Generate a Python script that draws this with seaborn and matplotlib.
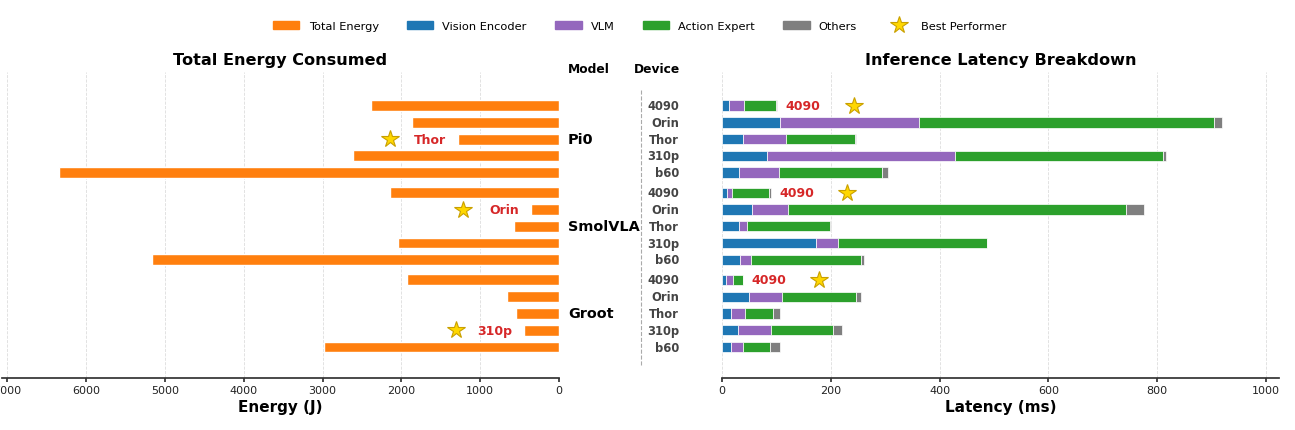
import numpy as np
import pandas as pd
from matplotlib import pyplot as plt
from matplotlib.patches import Patch
from matplotlib.lines import Line2D
import seaborn as sns

models = ["Pi0", "SmolVLA", "Groot"]
devices = ["4090", "Orin", "Thor", "310p", "b60"]

# energy per device, one list per model (J)
energy_pi0 = [2390, 1860, 1280, 2610, 6350]
energy_smolvla = [2150, 355, 570, 2045, 5165]
energy_groot = [1935, 665, 550, 440, 2980]

# latency breakdown (ms), rows = models x devices
vision_enc = [13, 107, 38, 82, 31,
              10, 55, 31, 173, 33,
              8, 49, 16, 29, 16]
vlm = [27, 256, 80, 346, 74,
       8, 67, 15, 40, 20,
       13, 61, 26, 62, 22]
action_exp = [59, 541, 127, 382, 189,
              68, 621, 153, 274, 203,
              17, 137, 51, 114, 51]
others = [3, 16, 1, 6, 12,
          4, 33, 1, 1, 6,
          1, 9, 14, 16, 17]

best_energy = ["Thor", "Orin", "310p"]
best_latency = ["4090", "4090", "4090"]

sns.set_theme(style="white")
plt.rcParams['font.family'] = ['DejaVu Sans']
plt.rcParams['text.color'] = 'black'
plt.rcParams['axes.labelcolor'] = 'black'
plt.rcParams['xtick.color'] = '#222222'

energy = energy_pi0 + energy_smolvla + energy_groot
df = pd.DataFrame({
    "model": np.repeat(models, len(devices)),
    "device": devices * len(models),
    "energy": energy,
    "vision": vision_enc, "vlm": vlm, "action": action_exp, "others": others,
})
# group spacing: 5 rows + a small gap
df["ypos"] = [g * 5.2 + i for g in range(len(models)) for i in range(len(devices))]
df["total"] = df[["vision", "vlm", "action", "others"]].sum(axis=1)

c_energy = "#ff7f0e"
c_vis, c_vlm, c_act, c_oth = "#1f77b4", "#9467bd", "#2ca02c", "#7f7f7f"
red = "#d62728"
star_kw = dict(marker="*", markersize=13, color="#FFD700", markeredgecolor="#C9A000",
               markeredgewidth=0.8, linestyle="none")

fig = plt.figure(figsize=(12.95, 4.31), dpi=100)
ax1 = fig.add_axes([0.0015, 0.1206, 0.4302, 0.71])
axm = fig.add_axes([0.4317, 0.1206, 0.1258, 0.71])
ax2 = fig.add_axes([0.5575, 0.1206, 0.4301, 0.71])

ylim = (16.25, -2.0)

# left: total energy
sns.barplot(data=df, x="energy", y="ypos", orient="y", native_scale=True,
            color=c_energy, saturation=1, width=0.65, errorbar=None, ax=ax1)
ax1.set_xlim(7070, 0)
ax1.set_ylim(*ylim)
for m, dev in zip(models, best_energy):
    row = df[(df.model == m) & (df.device == dev)].iloc[0]
    ax1.text(row.energy + 150, row.ypos, dev, ha="right", va="center",
             color=red, fontsize=9, fontweight="bold")
    ax1.plot(row.energy + 870, row.ypos, **star_kw)
ax1.set_title("Total Energy Consumed", fontsize=11.6, fontweight="bold", pad=6)
ax1.set_xlabel("Energy (J)", fontsize=11, fontweight="bold", labelpad=3)
ax1.set_ylabel("")

# right: latency breakdown, stacked
left = np.zeros(len(df))
for col, c in zip(["vision", "vlm", "action", "others"], [c_vis, c_vlm, c_act, c_oth]):
    ax2.barh(df["ypos"], df[col], left=left, height=0.62, color=c,
             edgecolor="white", linewidth=0.5)
    left += df[col].values
ax2.set_xlim(0, 1024)
ax2.set_ylim(*ylim)
for m, dev in zip(models, best_latency):
    row = df[(df.model == m) & (df.device == dev)].iloc[0]
    ax2.text(row.total + 15, row.ypos, dev, ha="left", va="center",
             color=red, fontsize=9, fontweight="bold")
    ax2.plot(row.total + 140, row.ypos, **star_kw)
ax2.set_title("Inference Latency Breakdown", fontsize=11.6, fontweight="bold", pad=6)
ax2.set_xlabel("Latency (ms)", fontsize=11, fontweight="bold", labelpad=3)

for ax in (ax1, ax2):
    sns.despine(ax=ax, left=True, top=True, right=True)
    ax.spines["bottom"].set_color("#333333")
    ax.set_yticks([])
    ax.tick_params(axis="x", labelsize=8, length=3, bottom=True, color="#333333", pad=2)
    ax.xaxis.grid(True, linestyle="--", color="#dddddd", linewidth=0.6)
    ax.set_axisbelow(True)

# middle: model / device labels
axm.set_xlim(0, 1)
axm.set_ylim(*ylim)
axm.axis("off")
axm.text(0.184, -2.2, "Model", ha="center", va="center", fontsize=8.8, fontweight="bold",
         clip_on=False)
axm.text(0.60, -2.2, "Device", ha="center", va="center", fontsize=8.8, fontweight="bold",
         clip_on=False)
axm.plot([0.503, 0.503], [-0.9, 15.45], linestyle="--", color="#aaaaaa", linewidth=0.8)
for g, m in enumerate(models):
    axm.text(0.055, g * 5.2 + 2, m, ha="left", va="center", fontsize=10.4, fontweight="bold")
for _, row in df.iterrows():
    axm.text(0.736, row.ypos, row.device, ha="right", va="center", fontsize=8.3,
             fontweight="bold", color="#444444")

handles = [Patch(color=c_energy, label="Total Energy"),
           Patch(color=c_vis, label="Vision Encoder"),
           Patch(color=c_vlm, label="VLM"),
           Patch(color=c_act, label="Action Expert"),
           Patch(color=c_oth, label="Others"),
           Line2D([], [], label="Best Performer", **star_kw)]
fig.legend(handles=handles, loc="center", bbox_to_anchor=(0.494, 0.937), ncol=6,
           frameon=False, fontsize=8.2, handlelength=2.3, columnspacing=2.5)

fig.savefig("out.png", dpi=100)
